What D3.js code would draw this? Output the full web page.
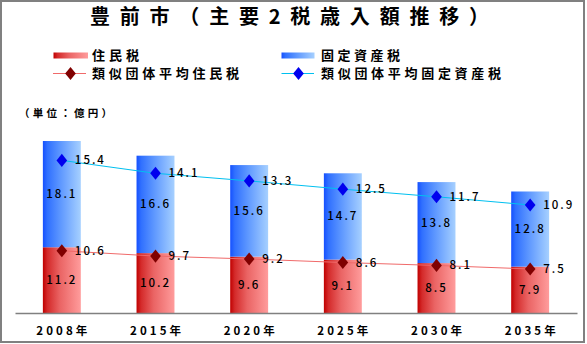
<!DOCTYPE html>
<html><head><meta charset="utf-8">
<script src="https://cdn.jsdelivr.net/npm/d3@7"></script>
<style>
html,body{margin:0;padding:0;background:#fff;}
svg{display:block;font-family:"Noto Sans CJK JP","Noto Sans",sans-serif;}
</style></head>
<body>
<svg id="c" width="587" height="344"></svg>
<script>
const years = ['2008年','2015年','2020年','2025年','2030年','2035年'];
const juminzei = [11.2,10.2,9.6,9.1,8.5,7.9];
const koteiShisanzei = [18.1,16.6,15.6,14.7,13.8,12.8];
const avgJuminzei = [10.6,9.7,9.2,8.6,8.1,7.5];
const avgKoteiShisanzei = [15.4,14.1,13.3,12.5,11.7,10.9];
const seriesNames = ['住民税','固定資産税','類似団体平均住民税','類似団体平均固定資産税'];
const title = '豊前市（主要2税歳入額推移）';
const unitLabel = '（単位：億円）';

const svg = d3.select('#c');

// frame
svg.append('rect').attr('x',1).attr('y',1).attr('width',583).attr('height',341)
  .attr('fill','#fff').attr('stroke','#808080').attr('stroke-width',2);

const defs = svg.append('defs');
function grad(id, stops){
  const g = defs.append('linearGradient').attr('id',id).attr('x1','0%').attr('x2','100%').attr('y1','0%').attr('y2','0%');
  stops.forEach(s=>g.append('stop').attr('offset',s[0]).attr('stop-color',s[1]));
}
grad('gRed',[['0%','#c00000'],['12%','#d42a2a'],['45%','#ea6464'],['100%','#ff9c9c']]);
grad('gBlue',[['0%','#1550ff'],['12%','#3070ff'],['45%','#5c96ff'],['100%','#a6d0ff']]);

// title
svg.append('text').attr('x',289.5).attr('y',24).attr('text-anchor','middle')
  .attr('font-size',20).attr('font-weight','bold').attr('fill','#000')
  .attr('textLength',399).attr('lengthAdjust','spacing').text(title);

const x = d3.scaleBand().domain(years).range([15,577]).paddingInner(0.595).paddingOuter(0.2975);
const y = d3.scaleLinear().domain([0,35]).range([313,313-35*5.87]);

// bars
const g = svg.append('g');
years.forEach((yr,i)=>{
  const a = juminzei[i], b = koteiShisanzei[i];
  g.append('rect').attr('x',x(yr)).attr('width',x.bandwidth())
    .attr('y',y(a)).attr('height',y(0)-y(a)).attr('fill','url(#gRed)');
  g.append('rect').attr('x',x(yr)).attr('width',x.bandwidth())
    .attr('y',y(a+b)).attr('height',y(a)-y(a+b)).attr('fill','url(#gBlue)');
});

// axis
const xAxis = d3.axisBottom(x).tickSize(0).tickPadding(0);
const ax = svg.append('g').attr('transform','translate(0,313)').call(xAxis);
ax.select('.domain').attr('stroke','#808080').attr('stroke-width',1.5);
ax.selectAll('text').attr('font-size',11.5).attr('font-weight','bold').attr('fill','#000').attr('font-family','"Noto Sans CJK JP"')
  .attr('dy',0).attr('y',21.5).attr('textLength',51).attr('lengthAdjust','spacing');

// bar labels
years.forEach((yr,i)=>{
  const a = juminzei[i], b = koteiShisanzei[i];
  const cx = x(yr)+x.bandwidth()/2;
  svg.append('text').attr('x',cx).attr('y',(y(0)+y(a))/2).attr('dy','0.35em')
    .attr('text-anchor','middle').attr('font-size',11.5).attr('font-weight',500).attr('letter-spacing',2).text(a.toFixed(1));
  svg.append('text').attr('x',cx).attr('y',(y(a)+y(a+b))/2).attr('dy','0.35em')
    .attr('text-anchor','middle').attr('font-size',11.5).attr('font-weight',500).attr('letter-spacing',2).text(b.toFixed(1));
});

// stacked lines
const redPts = years.map((yr,i)=>[x(yr)+x.bandwidth()/2, y(avgJuminzei[i])]);
const bluePts = years.map((yr,i)=>[x(yr)+x.bandwidth()/2, y(avgJuminzei[i]+avgKoteiShisanzei[i])]);
const line = d3.line();
svg.append('path').attr('d',line(redPts)).attr('fill','none').attr('stroke','#f06a6a').attr('stroke-width',1);
svg.append('path').attr('d',line(bluePts)).attr('fill','none').attr('stroke','#00c0f0').attr('stroke-width',1);

const diamond = d3.symbol().type(d3.symbolDiamond).size(50);
function markers(pts, vals, color){
  pts.forEach((p,i)=>{
    svg.append('path').attr('d',diamond()).attr('transform',`translate(${p[0]},${p[1]}) scale(1.4,1)`).attr('fill',color);
    svg.append('text').attr('x',p[0]+13).attr('y',p[1]).attr('dy','0.35em')
      .attr('font-size',11.5).attr('font-weight',500).attr('letter-spacing',2).text(vals[i].toFixed(1));
  });
}
markers(redPts, avgJuminzei, '#800000');
markers(bluePts, avgKoteiShisanzei, '#0000ee');

// legend
const lg = svg.append('g');
lg.append('rect').attr('x',53.5).attr('y',52.5).attr('width',34.5).attr('height',6).attr('fill','url(#gRed)');
lg.append('rect').attr('x',281.5).attr('y',52.5).attr('width',33).attr('height',6).attr('fill','url(#gBlue)');
lg.append('line').attr('x1',53).attr('x2',86).attr('y1',73.5).attr('y2',73.5).attr('stroke','#f06a6a');
lg.append('line').attr('x1',281.5).attr('x2',314).attr('y1',73.5).attr('y2',73.5).attr('stroke','#00c0f0');
lg.append('path').attr('d',diamond()).attr('transform','translate(70.5,73.5) scale(1.4,1)').attr('fill','#800000');
lg.append('path').attr('d',diamond()).attr('transform','translate(298.5,73.5) scale(1.4,1)').attr('fill','#0000ee');
const legTexts = [
  [92, 55.5, seriesNames[0], 47],
  [321, 55.5, seriesNames[1], 79],
  [92, 73.5, seriesNames[2], 147],
  [321, 73.5, seriesNames[3], 180]
];
legTexts.forEach(t=>{
  lg.append('text').attr('x',t[0]).attr('y',t[1]).attr('dy','0.38em').attr('font-size',13).attr('font-weight','bold')
    .attr('textLength',t[3]).attr('lengthAdjust','spacing').text(t[2]);
});

// unit label
svg.append('text').attr('x',19).attr('y',113).attr('dy','0.36em').attr('font-size',10.5).attr('font-weight','bold')
  .attr('textLength',93).attr('lengthAdjust','spacing').text(unitLabel);
</script>
</body></html>
